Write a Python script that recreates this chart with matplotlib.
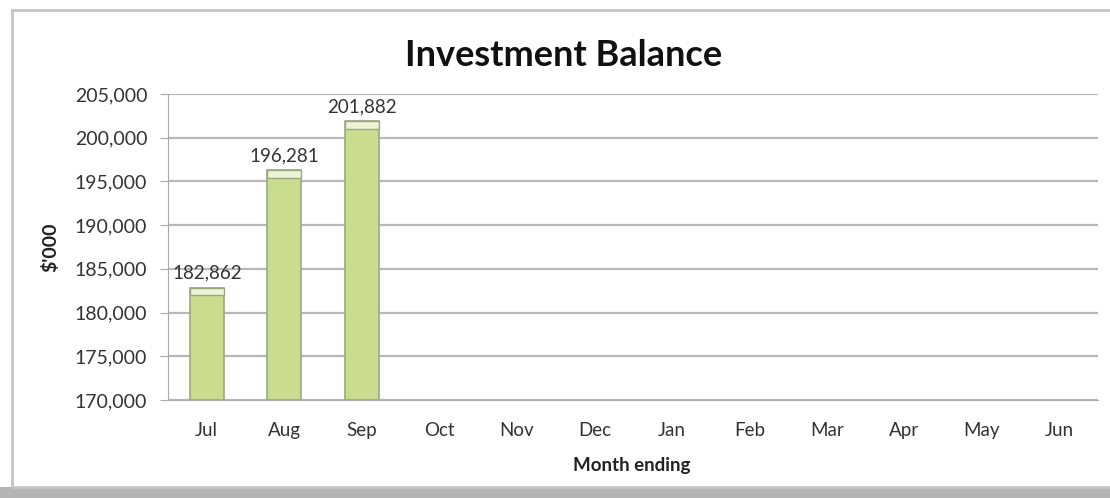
import matplotlib.pyplot as plt
from matplotlib.patches import Rectangle

plt.rcParams['font.family'] = ['Lato', 'DejaVu Sans']

months = ['Jul', 'Aug', 'Sep', 'Oct', 'Nov', 'Dec', 'Jan', 'Feb', 'Mar', 'Apr', 'May', 'Jun']
balance = [182862, 196281, 201882]
yticks = [170000, 175000, 180000, 185000, 190000, 195000, 200000, 205000]

fig = plt.figure(figsize=(11.1, 4.98), dpi=100)
fig.patch.set_facecolor('white')

# chart frame and bottom shadow
fig.patches.append(Rectangle((0.0, 0.0), 1.0, 0.022, transform=fig.transFigure,
                             facecolor='#b4b4b4', edgecolor='none', zorder=0))
fig.patches.append(Rectangle((0.011, 0.022), 1.02, 0.958, transform=fig.transFigure,
                             facecolor='white', edgecolor='#c4c4c4', lw=2, zorder=1))

ax = fig.add_axes([168 / 1110, 1 - 400 / 498, 930 / 1110, 306 / 498])
ax.set_zorder(2)
ax.patch.set_alpha(0)

x = range(len(months))
ax.bar(list(x)[:len(balance)], [b - 170000 for b in balance], bottom=170000,
       width=0.44, color='#cadd8e', edgecolor='#9aa882', lw=1.2, zorder=3)
# lighter cap on top of each bar
for i, b in enumerate(balance):
    ax.bar(i, 900, bottom=b - 900, width=0.44, color='#eef3d6',
           edgecolor='#9aa882', lw=1.0, zorder=4)
    ax.text(i, b + 700, f'{b:,}', ha='center', va='bottom', fontsize=13.5, color='#333333')

ax.set_xlim(-0.5, len(months) - 0.5)
ax.set_ylim(170000, 205000)
ax.set_yticks(yticks)
ax.set_yticklabels([f'{v:,}' for v in yticks], fontsize=14, color='#333333')
ax.set_xticks(list(x))
ax.set_xticklabels(months, fontsize=13.5, color='#333333')
ax.tick_params(axis='x', length=0, pad=16)
ax.tick_params(axis='y', length=6, color='#aaaaaa', pad=9)
ax.grid(axis='y', color='#b8b8b8', lw=1.6, zorder=1)
for s in ['top', 'right']:
    ax.spines[s].set_visible(False)
ax.spines['left'].set_color('#aaaaaa')
ax.spines['bottom'].set_color('#aaaaaa')

fig.text(50 / 1110, 1 - 247 / 498, "$'000", rotation=90, ha='center', va='center',
         fontsize=14, fontweight='bold', color='#222222')
fig.text(632 / 1110, 1 - 465 / 498, 'Month ending', ha='center', va='center',
         fontsize=13.5, fontweight='bold', color='#222222')
fig.text(564 / 1110, 1 - 55 / 498, 'Investment Balance', ha='center', va='center',
         fontsize=26, fontweight='bold', color='#111111')

fig.savefig('out.png', dpi=100)
